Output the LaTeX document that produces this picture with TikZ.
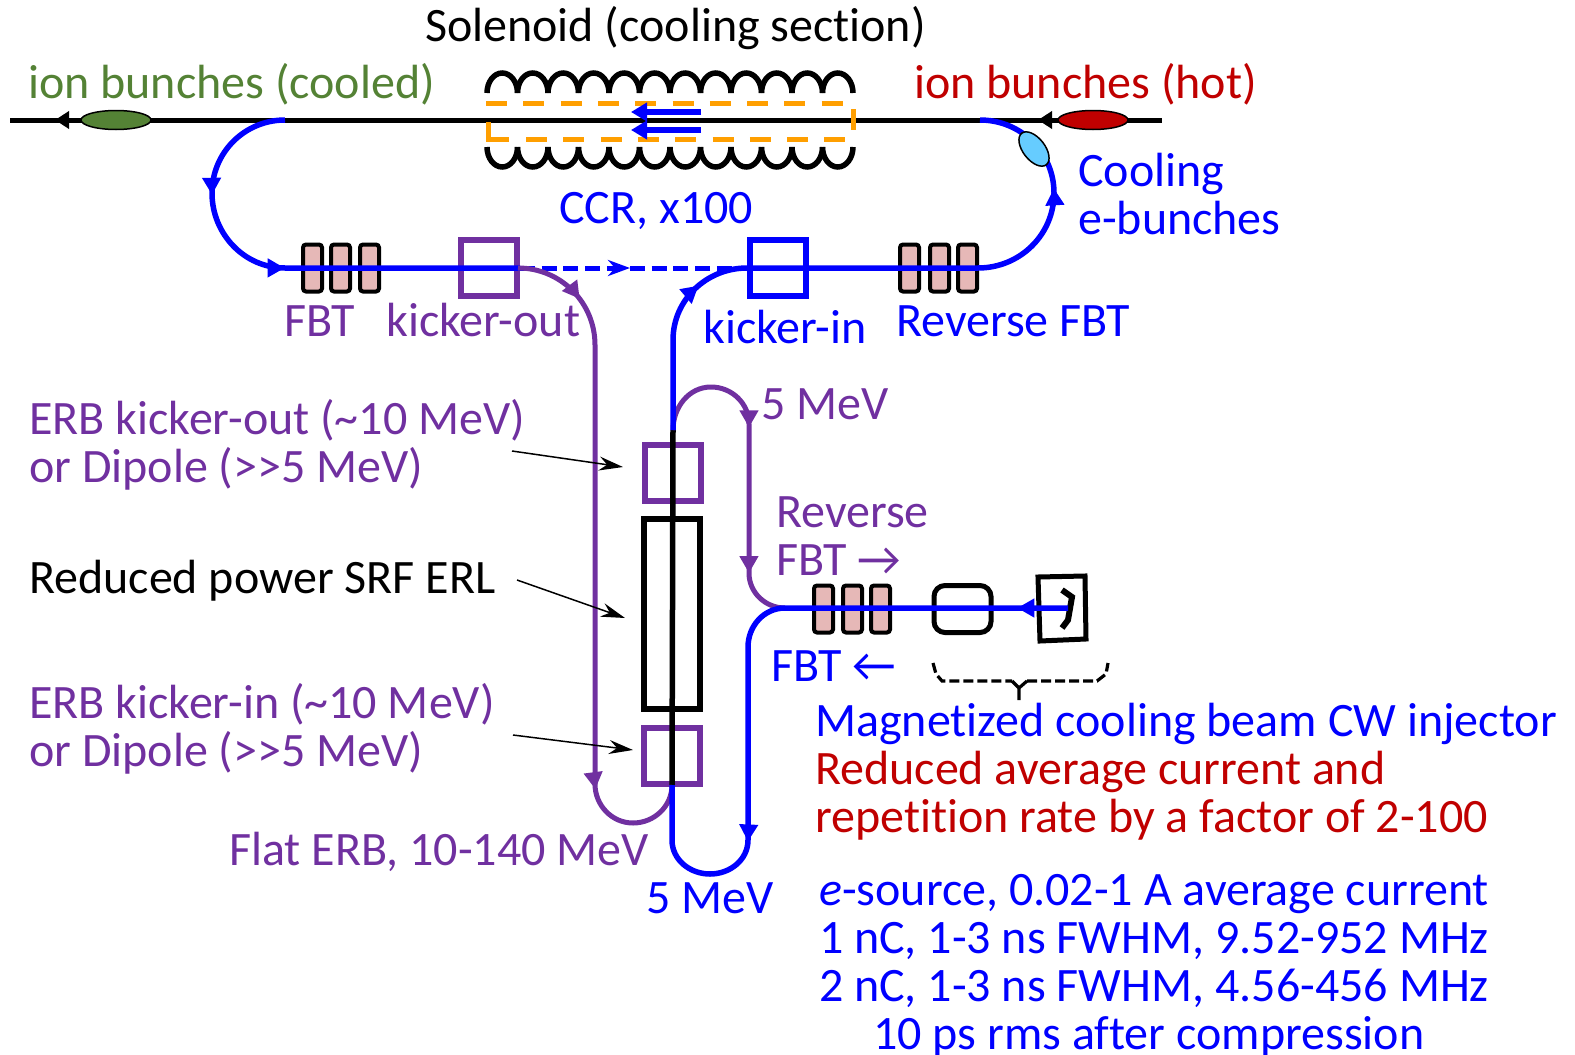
\documentclass[tikz,border=0pt]{standalone}
\usepackage{fontspec}
\setmainfont[Ligatures={NoCommon}]{Carlito}
\usetikzlibrary{arrows.meta,shapes.geometric,decorations.markings}
\definecolor{pur}{HTML}{7030A0}
\definecolor{grn}{HTML}{548235}
\definecolor{redd}{HTML}{C00000}
\definecolor{orng}{HTML}{FF9F00}
\definecolor{pink}{HTML}{E6B8B7}
\definecolor{lblue}{HTML}{66CCFF}
\tikzset{
  lbl/.style={anchor=base west,inner sep=0pt,xshift=-1pt,font=\fontsize{48pt}{58pt}\selectfont},
  midtip/.style={postaction={decorate,decoration={markings,mark=at position #1 with {\arrow{Triangle[length=17pt,width=18pt]}}}}},
  bluebeam/.style={color=blue,line width=5.5pt},
  purbeam/.style={color=pur,line width=5pt},
  fbtbox/.style={draw=black,fill=pink,line width=4pt,rounded corners=3pt,minimum width=19pt,minimum height=47pt,inner sep=0pt},
  kbox/.style={draw=#1,line width=6pt,minimum width=56pt,minimum height=56pt,inner sep=0pt},
  bunch/.style={ellipse,draw=black,line width=1.5pt,inner sep=0pt},
  pointer/.style={draw=black,line width=1.5pt,-{Stealth[length=24pt,width=14pt,inset=8pt]}},
  coilline/.style={draw=black,line width=5.5pt},
  orangedash/.style={draw=orng,line width=5pt}
}
\begin{document}
\begin{tikzpicture}[x=1pt,y=-1pt]
\useasboundingbox (0,0) rectangle (1575,1055);
% ion line
\coordinate (ionL) at (10,120);
\coordinate (ionR) at (1162,120);
\coordinate (ionTipL) at (55,120);
\coordinate (ionTipR) at (1038,120);
\coordinate (ionTipLs) at (80,120);
\coordinate (ionTipRs) at (1060,120);
\draw[black,line width=5pt] (ionL) -- (ionR);
\draw[black,line width=5pt,-{Triangle[length=14pt,width=17pt]}] (ionTipLs) -- (ionTipL);
\draw[black,line width=5pt,-{Triangle[length=14pt,width=17pt]}] (ionTipRs) -- (ionTipR);
\node[bunch,fill=grn,minimum width=70pt,minimum height=19pt] (green) at (116,120) {};
\node[bunch,fill=redd,minimum width=70pt,minimum height=19pt] (red) at (1093,120) {};
% solenoid
\foreach \i in {0,...,11}{
  \draw[coilline] ({487+30.5*\i},93) arc[start angle=180,end angle=0,x radius=15.25pt,y radius=20pt];
  \draw[coilline] ({487+30.5*\i},147) arc[start angle=180,end angle=360,x radius=15.25pt,y radius=20pt];
}
\draw[orangedash,dash pattern=on 21pt off 16.3pt] (486,103) -- (843,103);
\draw[orangedash,dash pattern=on 21pt off 16.3pt] (526,139) -- (847,139);
\draw[orangedash] (488,122) -- (488,139) -- (509,139);
\draw[orangedash] (853,109) -- (853,130);
\coordinate (ccrA) at (701,112);
\coordinate (ccrB) at (631,112);
\coordinate (ccrC) at (701,130);
\coordinate (ccrD) at (631,130);
\draw[blue,line width=5.5pt,-{Triangle[length=16pt,width=18pt]}] (ccrA) -- (ccrB);
\draw[blue,line width=5.5pt,-{Triangle[length=16pt,width=18pt]}] (ccrC) -- (ccrD);
% FBT boxes
\foreach \n/\x in {a/312.5,b/340.5,c/369.5}{\node[fbtbox] (fl\n) at (\x,268) {};}
\foreach \n/\x in {a/909.5,b/939.5,c/967.5}{\node[fbtbox] (fr\n) at (\x,268) {};}
\foreach \n/\x in {a/823.5,b/852.5,c/880.5}{\node[fbtbox] (fi\n) at (\x,609) {};}
% named path points
\coordinate (ccrLeft) at (285,120);
\coordinate (leftMid) at (212,193);
\coordinate (ccrBL) at (285,268);
\coordinate (ccrRight) at (980,120);
\coordinate (rightMid) at (1054,193);
\coordinate (ccrBR) at (978,268);
\node[kbox=pur] (kout) at (489,268) {};
\node[kbox=blue] (kin) at (778,268) {};
% CCR beam
\draw[bluebeam,midtip=0.25,midtip=0.495] (ccrLeft) to[out=180,in=90] (leftMid) to[out=-90,in=180] (ccrBL) -- (kout.center) -- (kout.east);
\draw[bluebeam,midtip=0.725] (kin.east) -- (ccrBR) to[out=0,in=-90] (rightMid) to[out=90,in=0] (ccrRight);
\node[bunch,fill=lblue,minimum width=40pt,minimum height=22pt,rotate=-52] (ebunch) at (1034,149) {};
\draw[blue,line width=5pt,dash pattern=on 15pt off 6.7pt,-{Stealth[length=22pt,width=16pt,inset=7pt,fill=blue]}] (kout.east) -- (630,268);
\draw[blue,line width=5pt,dash pattern=on 15pt off 6.7pt] (630,268) -- (kin.west);
% central column
\node[kbox=pur] (kick1) at (673,473) {};
\node[draw=black,line width=6pt,minimum width=56pt,minimum height=190pt,inner sep=0pt] (cav) at (672,614) {};
\node[kbox=pur] (kick2) at (672,756) {};
\coordinate (colTop) at (673,430);
\coordinate (colBot) at (672,785);
\draw[black,line width=5.5pt] (colTop) -- (colBot);
% purple beams
\coordinate (pv) at (595,345);
\coordinate (pb) at (595,784);
\coordinate (pu) at (633,823);
\draw[purbeam,midtip=0.105,midtip=0.83] (kout.east) ++(-2,0) to[out=0,in=90] (pv) -- (pb) to[out=-90,in=180] (pu) to[out=0,in=-90] (colBot);
\coordinate (p5top) at (711,387);
\coordinate (p5r) at (749,424);
\coordinate (p5d) at (749,573);
\coordinate (merge) at (785,608);
\draw[purbeam,midtip=0.385,midtip=0.83] (colTop) to[out=90,in=180] (p5top) to[out=0,in=90] (p5r) -- (p5d) to[out=-90,in=180] (merge);
% blue beam upward
\coordinate (bv) at (673,340);
\draw[bluebeam,midtip=0.57] (colTop) -- (bv) to[out=90,in=180] (kin.west) -- (kin.east);
% injector
\node[draw=black,line width=5pt,rounded corners=11pt,minimum width=57pt,minimum height=47pt,inner sep=0pt] (inj) at (962.5,609) {};
\draw[black,line width=5pt] (1038,577) -- (1085,576) -- (1086,639) -- (1040,641) -- cycle;
\coordinate (cathode) at (1068,608);
\draw[black,line width=6pt] (1062,590) -- (1072,597) -- (1068,620) -- (1062,628);
\coordinate (bd) at (748,647);
\coordinate (bdl) at (748,840);
\coordinate (bub) at (710,874);
\coordinate (bul) at (672,840);
\draw[bluebeam,midtip=0.072,midtip=0.763] (cathode) -- (merge) to[out=180,in=90] (bd) -- (bdl) to[out=-90,in=0] (bub) to[out=180,in=-90] (bul) -- (colBot);
% brace
\draw[black,line width=3.2pt,dash pattern=on 10pt off 4pt] (933,663) -- (936,674) -- (942,681) -- (1012,681);
\draw[black,line width=3.2pt,dash pattern=on 10pt off 4pt] (1027,681) -- (1097,681) -- (1106,674) -- (1108,663);
\draw[black,line width=3.2pt] (1012,681) -- (1019,688) -- (1019,700) (1019,688) -- (1027,681);
% pointers
\coordinate (ptA) at (512,451);
\coordinate (ptB) at (517,580);
\coordinate (ptC) at (513,735);
\coordinate (ptAe) at (623,467);
\coordinate (ptBe) at (625,618);
\coordinate (ptCe) at (633,750);
\draw[pointer] (ptA) -- (ptAe);
\draw[pointer] (ptB) -- (ptBe);
\draw[pointer] (ptC) -- (ptCe);
% texts
\node[lbl,black] (t1) at (426,41) {Solenoid (cooling section)};
\node[lbl,grn] (t2) at (29,98.5) {ion bunches (cooled)};
\node[lbl,redd] (t3) at (915,98.5) {ion bunches (hot)};
\node[lbl,blue] (t4) at (1079,186) {Cooling};
\node[lbl,blue] (t5) at (1079,234) {e-bunches};
\node[lbl,blue] (t6) at (560,223) {CCR, x100};
\node[lbl,pur] (t7) at (285,336) {FBT};
\node[lbl,pur] (t8) at (387,336) {kicker-out};
\node[lbl,blue] (t9) at (704,343) {kicker-in};
\node[lbl,blue] (t10) at (897,336) {Reverse FBT};
\node[lbl,pur] (t11) at (762,419) {5 MeV};
\node[lbl,pur] (t12) at (30,434.5) {ERB kicker-out (\textasciitilde10 MeV)};
\node[lbl,pur] (t13) at (30,482.5) {or Dipole ({>}{>}5 MeV)};
\node[lbl,pur] (t14) at (777,527) {Reverse};
\node[lbl,pur] (t15) at (777,575) {FBT →};
\node[lbl,black] (t16) at (30,593) {Reduced power SRF ERL};
\node[lbl,blue] (t17) at (772,681) {FBT ←};
\node[lbl,pur] (t18) at (30,718.5) {ERB kicker-in (\textasciitilde10 MeV)};
\node[lbl,pur] (t19) at (30,766.5) {or Dipole ({>}{>}5 MeV)};
\node[lbl,pur] (t20) at (230,865) {Flat ERB, 10-140 MeV};
\node[lbl,blue] (t21) at (647,913) {5 MeV};
\node[lbl,blue] (t22) at (816,736.5) {Magnetized cooling beam CW injector};
\node[lbl,redd] (t23) at (816,784) {Reduced average current and};
\node[lbl,redd] (t24) at (816,832) {repetition rate by a factor of 2-100};
\node[lbl,blue] (t25) at (820,905) {\textit{e}-source, 0.02-1 A average current};
\node[lbl,blue] (t26) at (820,953) {1 nC, 1-3 ns FWHM, 9.52-952 MHz};
\node[lbl,blue] (t27) at (820,1001) {2 nC, 1-3 ns FWHM, 4.56-456 MHz};
\node[lbl,blue] (t28) at (874,1049) {10 ps rms after compression};
\end{tikzpicture}
\end{document}
